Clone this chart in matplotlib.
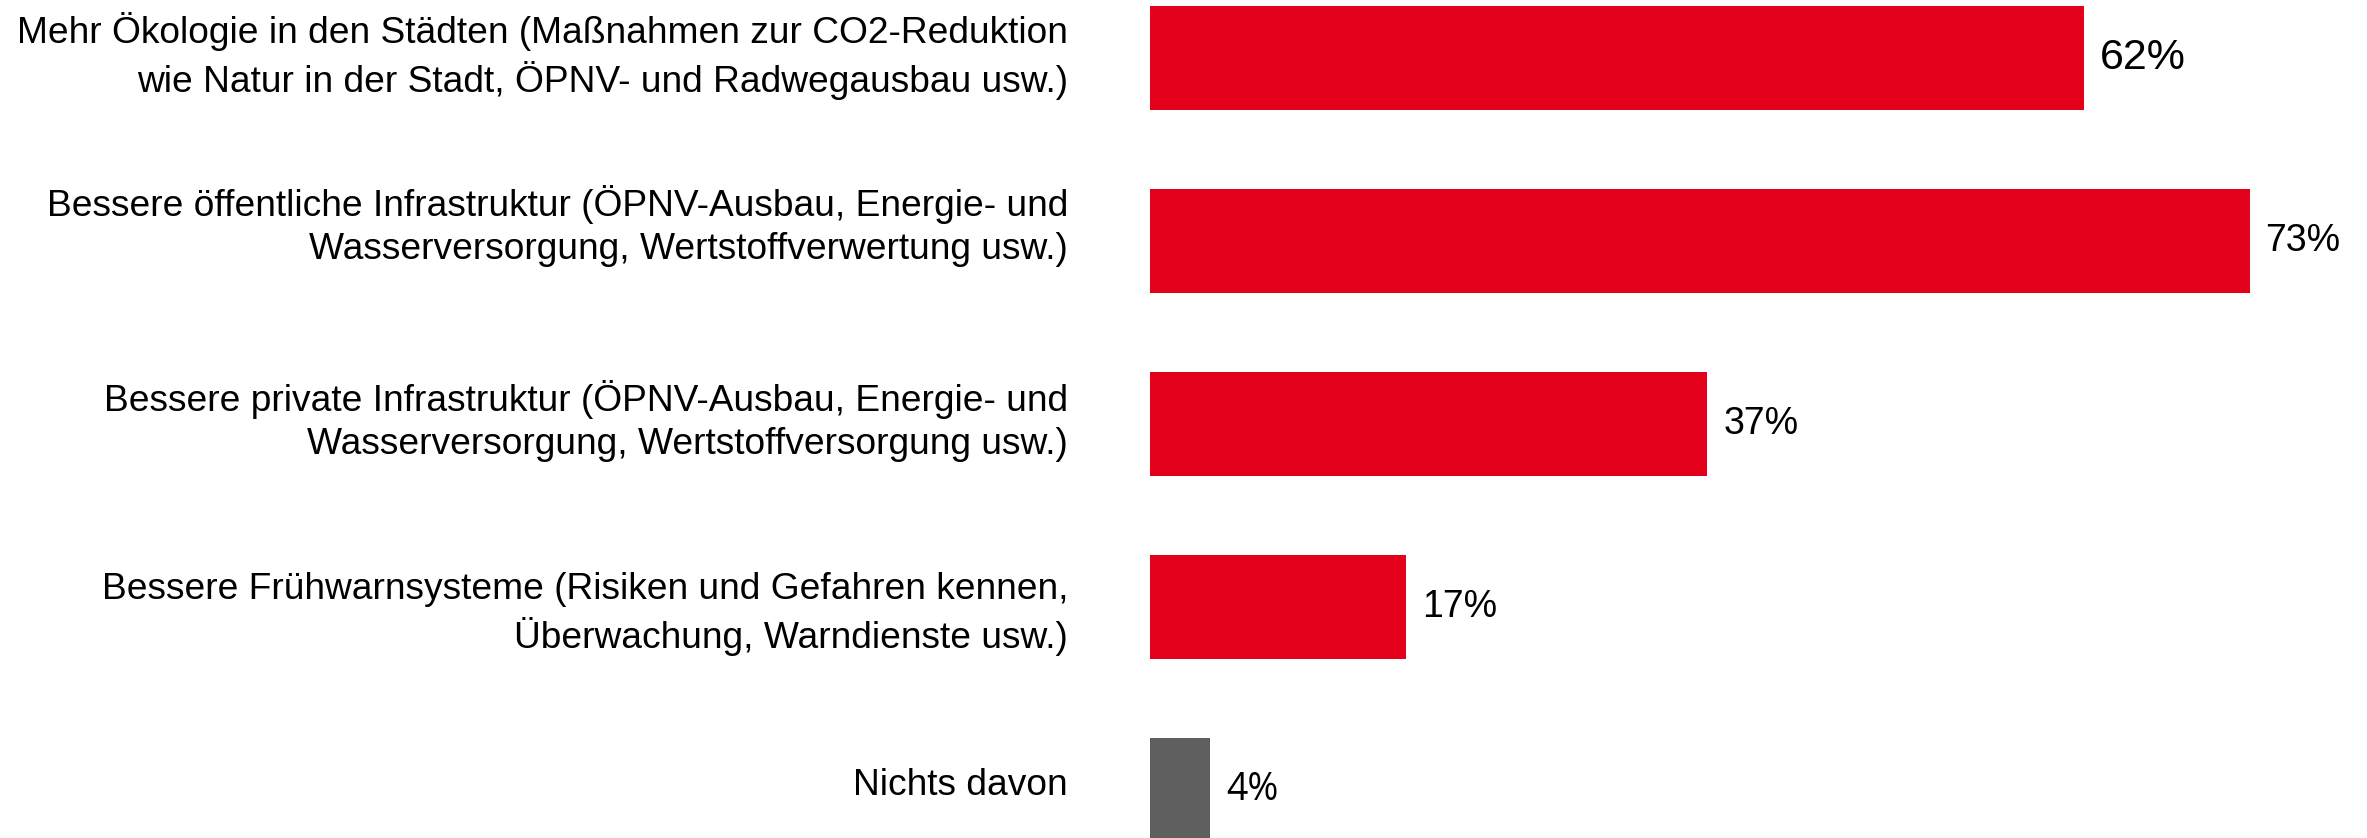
import matplotlib
matplotlib.use("Agg")
import matplotlib.pyplot as plt

categories = [
    "Mehr Ökologie in den Städten (Maßnahmen zur CO2-Reduktion\nwie Natur in der Stadt, ÖPNV- und Radwegausbau usw.)",
    "Bessere öffentliche Infrastruktur (ÖPNV-Ausbau, Energie- und\nWasserversorgung, Wertstoffverwertung usw.)",
    "Bessere private Infrastruktur (ÖPNV-Ausbau, Energie- und\nWasserversorgung, Wertstoffversorgung usw.)",
    "Bessere Frühwarnsysteme (Risiken und Gefahren kennen,\nÜberwachung, Warndienste usw.)",
    "Nichts davon",
]
values = [62, 73, 37, 17, 4]
value_labels = ["62%", "73%", "37%", "17%", "4%"]

RED = "#E2001A"
GREY = "#5F5F5F"
colors = [RED, RED, RED, RED, GREY]
label_sizes = [31, 27, 27, 27, 27]
label_fonts = ["Liberation Sans"] * 4 + ["Open Sans"]
# the text boxes in the original are not exactly centred on the bars
label_nudge = [1.4, 10.8, 2.2, -5, 3.6]

W, H = 2367, 838
fig = plt.figure(figsize=(W / 100, H / 100), dpi=100)
ax = fig.add_axes([1150 / W, 0, (W - 1150) / W, 1])

pos = list(range(len(categories)))
ax.barh(pos, values, height=0.57, color=colors)
ax.set_xlim(0, 80.8)
ax.set_ylim(4.262, -0.317)

ax.set_xticks([])
ax.set_yticks([])
for s in ax.spines.values():
    s.set_visible(False)

# category labels, right aligned left of the bars
for p, cat, dy in zip(pos, categories, label_nudge):
    ax.annotate(cat, (0, p), xytext=(-59, dy), textcoords="offset points",
                ha="right", va="center", fontsize=26.7,
                family="Liberation Sans", linespacing=1.3)

for p, v, lab, fs, fam in zip(pos, values, value_labels, label_sizes, label_fonts):
    ax.annotate(lab, (v, p), xytext=(11.5, 0), textcoords="offset points",
                ha="left", va="center", fontsize=fs, family=fam)

fig.savefig("out.png", dpi=100)
